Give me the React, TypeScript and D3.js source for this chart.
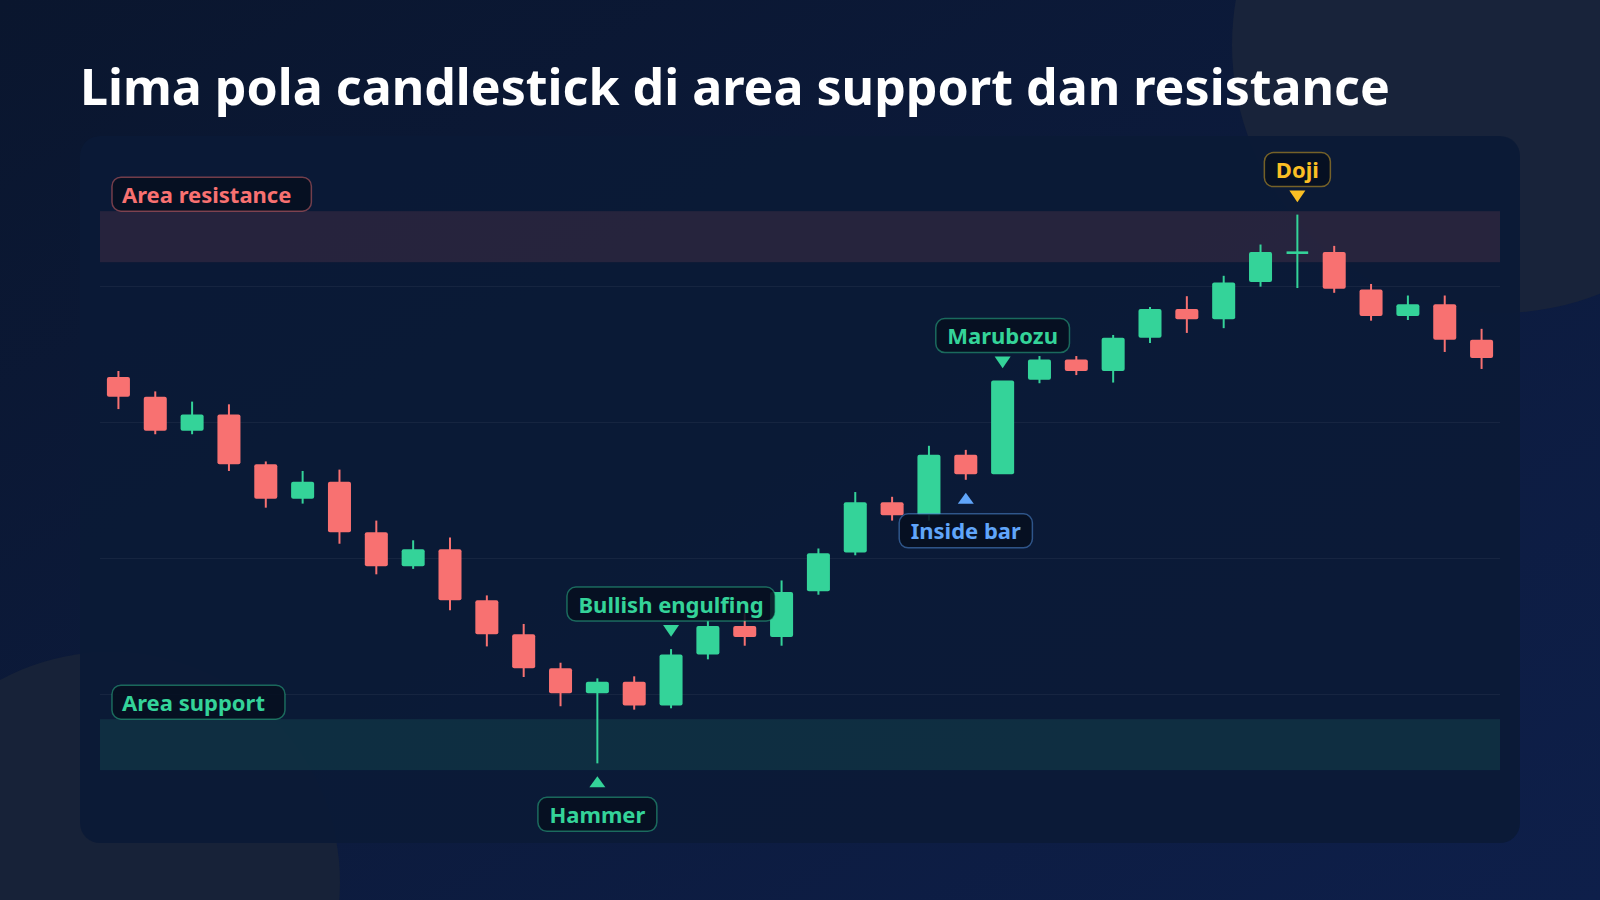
import * as d3 from "d3";
import { useEffect, useRef } from "react";

const title = "Lima pola candlestick di area support dan resistance";

// OHLC per candle, left to right
const opens = [
  66.6, 63.7, 58.7, 61.1, 53.8, 48.7, 51.2, 43.8, 38.8, 41.3, 33.8, 28.8, 23.8, 20.1, 21.8, 18.3, 25.8, 30.0, 28.4,
  35.1, 40.8, 48.2, 46.3, 55.2, 52.3, 66.2, 69.2, 67.5, 72.4, 76.6, 75.1, 80.6, 84.9, 85.0, 79.5, 75.6, 77.3, 72.1,
];
const highs = [
  67.5, 64.5, 63.0, 62.6, 54.2, 52.8, 53.0, 45.5, 42.6, 43.0, 34.5, 30.3, 24.6, 22.3, 22.6, 26.6, 30.7, 31.9, 36.7,
  41.4, 49.7, 49.0, 56.5, 55.9, 66.1, 69.7, 69.7, 72.8, 76.9, 78.5, 81.5, 86.1, 90.5, 85.9, 80.3, 78.6, 78.6, 73.7,
];
const lows = [
  61.9, 58.2, 58.2, 52.8, 47.4, 48.0, 42.1, 37.6, 38.4, 32.3, 27.0, 22.5, 18.2, 9.8, 17.7, 17.9, 25.1, 27.1, 27.1,
  34.6, 40.4, 45.5, 45.5, 51.5, 52.3, 65.7, 66.9, 65.8, 71.6, 73.1, 73.8, 79.9, 79.7, 79.0, 74.9, 75.0, 70.3, 67.8,
];
const closes = [
  63.7, 58.7, 61.1, 53.8, 48.7, 51.2, 43.8, 38.8, 41.3, 33.8, 28.8, 23.8, 20.1, 21.8, 18.3, 25.8, 30.0, 28.4, 35.0,
  40.7, 48.2, 46.3, 55.2, 52.3, 66.1, 69.2, 67.5, 72.4, 76.6, 75.1, 80.5, 85.0, 84.9, 79.6, 75.6, 77.3, 72.1, 69.4,
];

const gridTicks = [20, 40, 60, 80];
const resistanceZone = [83.5, 91.0];
const supportZone = [8.8, 16.3];

const patternNames = ["Hammer", "Bullish engulfing", "Inside bar", "Marubozu", "Doji"];
const patternCandle = [13, 15, 23, 24, 32];
const patternSide = ["below", "above", "below", "above", "above"];

const GREEN = "#34d399";
const RED = "#f87171";
const BLUE = "#60a5fa";
const AMBER = "#fbbf24";
const patternColor: Record<string, string> = {
  Hammer: GREEN,
  "Bullish engulfing": GREEN,
  "Inside bar": BLUE,
  Marubozu: GREEN,
  Doji: AMBER,
};

const W = 1600;
const H = 900;
const FONT = "'Noto Sans', 'Open Sans', sans-serif";

const App = () => {
  const chartRef = useRef<SVGSVGElement | null>(null);

  useEffect(() => {
    document.body.style.margin = "0";
    drawChart();
  }, []);

  const drawChart = () => {
    if (!chartRef.current) return;
    const svg = d3.select(chartRef.current);
    svg.selectAll("*").remove();

    // background
    const defs = svg.append("defs");
    const grad = defs
      .append("linearGradient")
      .attr("id", "bg")
      .attr("x1", "0")
      .attr("y1", "0")
      .attr("x2", "1")
      .attr("y2", "1");
    grad.append("stop").attr("offset", "0%").attr("stop-color", "#0a162e");
    grad.append("stop").attr("offset", "100%").attr("stop-color", "#0e1f4a");
    svg.append("rect").attr("width", W).attr("height", H).attr("fill", "url(#bg)");
    svg.append("circle").attr("cx", 1500).attr("cy", 45).attr("r", 268).attr("fill", "#18233a");
    svg.append("circle").attr("cx", 110).attr("cy", 882).attr("r", 230).attr("fill", "#172238");

    svg
      .append("text")
      .attr("x", 80)
      .attr("y", 105)
      .style("font-family", FONT)
      .style("font-weight", 700)
      .style("font-size", "50.1px")
      .style("fill", "#ffffff")
      .text(title);

    // panel
    svg
      .append("rect")
      .attr("x", 80)
      .attr("y", 136)
      .attr("width", 1440)
      .attr("height", 707)
      .attr("rx", 20)
      .attr("fill", "#0b1a36")
      .attr("opacity", 0.92);

    const xScale = d3
      .scaleBand<number>()
      .domain(d3.range(opens.length))
      .range([100, 1500])
      .paddingInner(0.375)
      .paddingOuter(0.1875);
    const yScale = d3.scaleLinear().domain([0, 100]).range([830, 150]);
    const cx = (i: number) => xScale(i)! + xScale.bandwidth() / 2;

    // zones
    const zones = [
      { name: "Area resistance", range: resistanceZone, color: RED, fill: "rgba(248,113,113,0.12)" },
      { name: "Area support", range: supportZone, color: GREEN, fill: "rgba(52,211,153,0.11)" },
    ];
    svg
      .append("g")
      .selectAll("rect")
      .data(zones)
      .join("rect")
      .attr("x", 100)
      .attr("width", 1400)
      .attr("y", (d) => yScale(d.range[1]))
      .attr("height", (d) => yScale(d.range[0]) - yScale(d.range[1]))
      .attr("fill", (d) => d.fill);

    // grid
    svg
      .append("g")
      .selectAll("line")
      .data(gridTicks)
      .join("line")
      .attr("x1", 100)
      .attr("x2", 1500)
      .attr("y1", (d) => yScale(d) + 0.5)
      .attr("y2", (d) => yScale(d) + 0.5)
      .attr("stroke", "rgba(255,255,255,0.05)")
      .attr("stroke-width", 1);

    // candles
    const candles = opens.map((o, i) => ({ i, o, h: highs[i], l: lows[i], c: closes[i] }));
    const cg = svg.append("g");
    cg.selectAll("line")
      .data(candles.filter((d) => d.h > Math.max(d.o, d.c) || d.l < Math.min(d.o, d.c)))
      .join("line")
      .attr("x1", (d) => cx(d.i))
      .attr("x2", (d) => cx(d.i))
      .attr("y1", (d) => yScale(d.h))
      .attr("y2", (d) => yScale(d.l))
      .attr("stroke", (d) => (d.c >= d.o ? GREEN : RED))
      .attr("stroke-width", 2);
    cg.selectAll("rect")
      .data(candles)
      .join("rect")
      .attr("x", (d) => (d.o === d.c ? xScale(d.i)! + 0.7 : xScale(d.i)!))
      .attr("width", (d) => (d.o === d.c ? xScale.bandwidth() - 1.4 : xScale.bandwidth()))
      .attr("y", (d) => (d.o === d.c ? yScale(d.o) - 1.3 : yScale(Math.max(d.o, d.c))))
      .attr("height", (d) => (d.o === d.c ? 2.6 : Math.abs(yScale(d.o) - yScale(d.c))))
      .attr("rx", (d) => (d.o === d.c ? 0 : 2))
      .attr("fill", (d) => (d.c >= d.o ? GREEN : RED));

    const boxH = 34;
    const addLabel = (g: d3.Selection<SVGGElement, unknown, null, undefined>, text: string, color: string) => {
      const box = g
        .append("rect")
        .attr("height", boxH)
        .attr("rx", 9)
        .attr("fill", "rgba(6,15,32,0.88)")
        .attr("stroke", color)
        .attr("stroke-opacity", 0.45)
        .attr("stroke-width", 1.5);
      const t = g
        .append("text")
        .style("font-family", FONT)
        .style("font-weight", 700)
        .style("font-size", "22px")
        .style("fill", color)
        .text(text);
      const tw = (t.node() as SVGTextElement).getComputedTextLength();
      return { box, t, tw };
    };

    // zone labels
    zones.forEach((z) => {
      const g = svg.append("g");
      const { box, t, tw } = addLabel(g, z.name, z.color);
      const top = yScale(z.range[1]) - boxH;
      box.attr("x", 112).attr("y", top).attr("width", tw + 30);
      t.attr("x", 122).attr("y", top + 25.5);
    });

    // pattern labels
    patternNames.forEach((name, k) => {
      const i = patternCandle[k];
      const color = patternColor[name];
      const x = cx(i);
      const g = svg.append("g");
      let tip: number, base: number, boxTop: number;
      if (patternSide[k] === "above") {
        tip = yScale(highs[i]) - 12.3;
        base = tip - 11.7;
        boxTop = base - 4 - boxH;
      } else {
        tip = yScale(lows[i]) + 13;
        base = tip + 11;
        boxTop = base + 10;
      }
      g.append("path")
        .attr("d", `M${x - 8},${base}L${x + 8},${base}L${x},${tip}Z`)
        .attr("fill", color);
      const { box, t, tw } = addLabel(g, name, color);
      const bw = tw + 23;
      box.attr("x", x - bw / 2).attr("y", boxTop).attr("width", bw);
      t.attr("x", x).attr("y", boxTop + 25.5).attr("text-anchor", "middle");
    });
  };

  return <svg ref={chartRef} width={W} height={H} style={{ display: "block" }} />;
};

export default App;
